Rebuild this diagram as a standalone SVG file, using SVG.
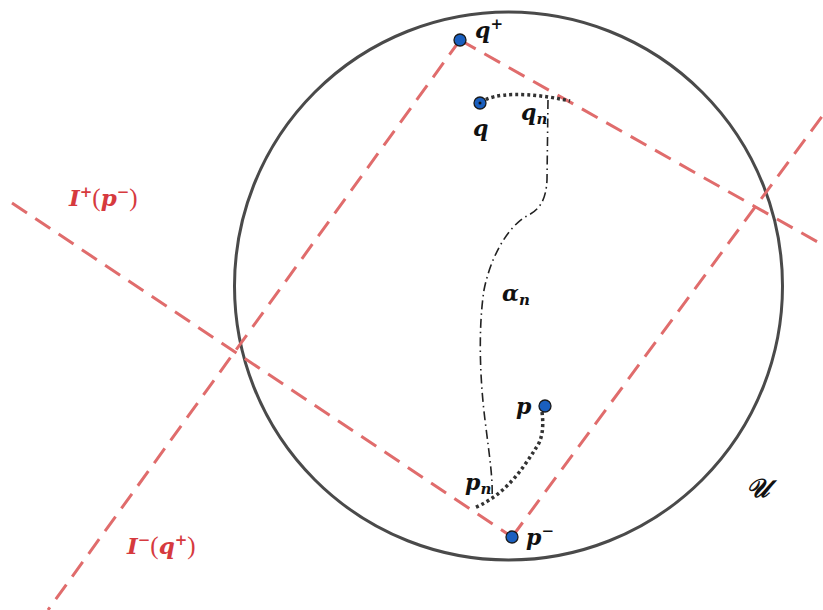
<svg xmlns="http://www.w3.org/2000/svg" width="823" height="610" viewBox="0 0 823 610">
<style>
.cone{stroke:#e06c6c;stroke-width:3;stroke-dasharray:18 10;fill:none}
.pt{fill:#1a5fbf;stroke:#1a1a1a;stroke-width:1.3}
.lbl{font-family:"DejaVu Serif","Liberation Serif",serif;font-weight:bold;font-style:italic;font-size:22px;fill:#111}
.sub{font-size:15px}
.red{fill:#d63a3e;font-size:23px}
.up{font-style:normal;font-weight:normal;font-family:"Liberation Serif",serif;font-size:25px}
.dot{stroke:#333;stroke-width:3.5;stroke-dasharray:3 3;fill:none}
.dash{stroke:#222;stroke-width:1.6;stroke-dasharray:9 4 1.5 4;fill:none}
</style>
<rect width="823" height="610" fill="#fff"/>
<g id="region-U">
<circle cx="508.5" cy="286" r="274" fill="none" stroke="#4a4a4a" stroke-width="3"/>
<text class="lbl" x="746" y="497" style="font-size:26px">𝒰</text>
</g>
<g id="connectors">
<line class="cone" x1="460" y1="40" x2="48" y2="610"/>
<line class="cone" x1="12" y1="203" x2="512" y2="537"/>
<line class="cone" x1="460" y1="40" x2="823" y2="245"/>
<line class="cone" x1="512" y1="537" x2="823" y2="115"/>
<path class="dot" d="M481 103 C492 92 530 92 570 101"/>
<path class="dot" d="M542 412 C544 428 542 440 536 448 C522 470 505 495 474 508"/>
<path class="dash" d="M548 100 L547 180 C546 200 540 210 525 217 C505 230 490 260 484 290 C478 330 480 380 485 420 C490 460 493 480 492 498"/>
</g>
<g id="node-qplus"><circle class="pt" cx="460" cy="40" r="6"/><text class="lbl" x="475" y="38">q<tspan class="sub" dy="-9">+</tspan></text></g>
<g id="node-q"><circle class="pt" cx="480" cy="103" r="6"/><circle cx="480" cy="103" r="1.5" fill="#111"/><text class="lbl" x="473" y="136">q</text></g>
<g id="node-qn"><text class="lbl" x="521" y="120">q<tspan class="sub" dy="4">n</tspan></text></g>
<g id="node-alpha"><text class="lbl" x="502" y="301">α<tspan class="sub" dy="4">n</tspan></text></g>
<g id="node-p"><circle class="pt" cx="545" cy="406" r="6"/><text class="lbl" x="516" y="414">p</text></g>
<g id="node-pn"><text class="lbl" x="465" y="490">p<tspan class="sub" dy="4">n</tspan></text></g>
<g id="node-pminus"><circle class="pt" cx="512" cy="537" r="6"/><text class="lbl" x="526" y="545">p<tspan class="sub" dy="-9">−</tspan></text></g>
<g id="label-Iplus"><text class="lbl red" x="69" y="206">I<tspan class="sub" dy="-9">+</tspan><tspan class="up" dy="9">(</tspan><tspan>p</tspan><tspan class="sub" dy="-9">−</tspan><tspan class="up" dy="9">)</tspan></text></g>
<g id="label-Iminus"><text class="lbl red" x="127" y="554">I<tspan class="sub" dy="-9">−</tspan><tspan class="up" dy="9">(</tspan><tspan>q</tspan><tspan class="sub" dy="-9">+</tspan><tspan class="up" dy="9">)</tspan></text></g>
</svg>
